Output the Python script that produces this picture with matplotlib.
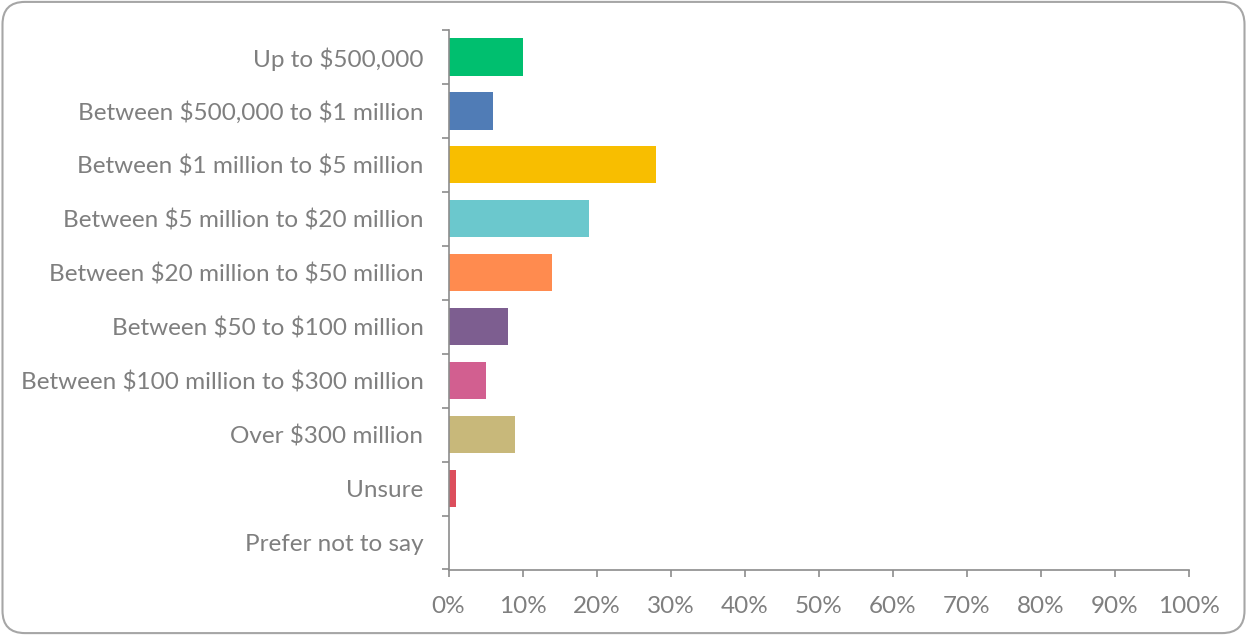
import matplotlib.pyplot as plt
from matplotlib.patches import FancyBboxPatch
from matplotlib.ticker import FixedLocator, PercentFormatter

categories = [
    'Up to $500,000',
    'Between $500,000 to $1 million',
    'Between $1 million to $5 million',
    'Between $5 million to $20 million',
    'Between $20 million to $50 million',
    'Between $50 to $100 million',
    'Between $100 million to $300 million',
    'Over $300 million',
    'Unsure',
    'Prefer not to say',
]
shares = [10, 6, 28, 19, 14, 8, 5, 9, 1, 0]
bar_colors = ['#00BF6F', '#507CB6', '#F8BE00', '#6BC8CD', '#FF8B4F',
              '#7D5E90', '#D25F90', '#C8B87A', '#DC4E5C', '#A0A0A0']
x_ticks = [0, 10, 20, 30, 40, 50, 60, 70, 80, 90, 100]

text_gray = '#7F7F7F'
axis_gray = '#8C8C8C'

plt.rcParams['font.family'] = ['Lato', 'DejaVu Sans']
plt.rcParams['text.parse_math'] = False  # dollar signs are literal

fig = plt.figure(figsize=(12.47, 6.35), dpi=100)

# rounded frame around the whole chart, kept behind the axes
frame = FancyBboxPatch((0.002, 0.003), 0.996, 0.994,
                       boxstyle='round,pad=0,rounding_size=0.018',
                       transform=fig.transFigure, facecolor='white',
                       edgecolor='#A6A6A6', linewidth=1.5,
                       mutation_aspect=1247 / 635, zorder=-1)
fig.patches.append(frame)

ax = fig.add_axes([448.5 / 1247, 1 - 569.5 / 635, 740.5 / 1247, 539.5 / 635])
ax.patch.set_alpha(0)

ypos = list(range(len(categories)))
ax.barh(ypos, shares, height=0.69, color=bar_colors)

ax.set_ylim(len(categories) - 0.5, -0.5)
ax.set_xlim(0, 100)

ax.set_yticks(ypos)
ax.set_yticklabels(categories)
ax.yaxis.set_minor_locator(FixedLocator([i - 0.5 for i in range(len(categories) + 1)]))
ax.tick_params(axis='y', which='major', length=0, pad=18, labelsize=17.5,
               labelcolor=text_gray)
ax.tick_params(axis='y', which='minor', length=5, width=1.2, color=axis_gray,
               direction='out')

ax.set_xticks(x_ticks)
ax.xaxis.set_major_formatter(PercentFormatter(decimals=0))
ax.tick_params(axis='x', length=5, width=1.2, color=axis_gray, pad=14,
               labelsize=17.5, labelcolor=text_gray)

for side in ['top', 'right']:
    ax.spines[side].set_visible(False)
for side in ['left', 'bottom']:
    ax.spines[side].set_color(axis_gray)
    ax.spines[side].set_linewidth(1.2)

fig.savefig('out.png', dpi=100)
